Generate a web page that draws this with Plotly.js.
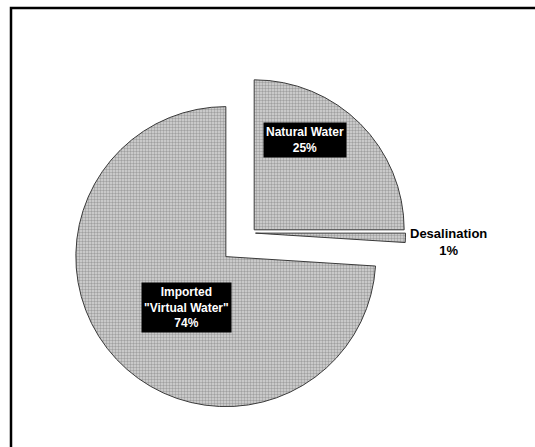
<!DOCTYPE html>
<html>
<head>
<meta charset="utf-8">
<script src="https://cdn.plot.ly/plotly-3.0.1.min.js"></script>
<style>
  html, body { margin: 0; padding: 0; background: #ffffff; }
  #chart { width: 535px; height: 447px; }
</style>
</head>
<body>
<div id="chart"></div>
<script>
// Water supply by source (percent of total)
const sources = ['Natural Water', 'Desalination', 'Imported "Virtual Water"'];
const sourceLines = ['Natural Water', 'Desalination', 'Imported<br>"Virtual Water"'];
const shares = [25, 1, 74];
const pulls = [0.03, 0.03, 0.23];

const trace = {
  type: 'pie',
  labels: sources,
  values: shares,
  pull: pulls,
  sort: false,
  direction: 'clockwise',
  rotation: 0,
  textinfo: 'none',
  hoverinfo: 'label+percent',
  showlegend: false,
  domain: { x: [0.1243, 0.8140], y: [0.062, 0.8955] },
  marker: {
    colors: ['#d6d6d6', '#d6d6d6', '#d6d6d6'],
    line: { color: '#3a3a3a', width: 1 },
    pattern: { shape: '.', size: 3, solidity: 0.5, fgcolor: '#6a6a6a', fillmode: 'overlay' }
  }
};

// label placement for each slice (paper coordinates), font size and whether it sits in a dark box
const labelPos = [
  { x: 0.570, y: 0.687, size: 12, boxed: true },
  { x: 0.838, y: 0.459, size: 13, boxed: false },
  { x: 0.348, y: 0.311, size: 12, boxed: true }
];

const annotations = shares.map((v, i) => ({
  xref: 'paper', yref: 'paper',
  x: labelPos[i].x, y: labelPos[i].y,
  xanchor: 'center', yanchor: 'middle',
  showarrow: false,
  align: 'center',
  text: '<b>' + sourceLines[i] + '<br>' + v + '%</b>',
  font: { family: 'Liberation Sans, Arial, sans-serif', size: labelPos[i].size, color: labelPos[i].boxed ? '#ffffff' : '#000000' },
  bgcolor: labelPos[i].boxed ? '#000000' : 'rgba(0,0,0,0)',
  borderpad: 2
}));

const layout = {
  width: 535,
  height: 447,
  margin: { l: 0, r: 0, t: 0, b: 0 },
  paper_bgcolor: '#ffffff',
  plot_bgcolor: '#ffffff',
  showlegend: false,
  annotations: annotations,
  shapes: [{
    type: 'rect', xref: 'paper', yref: 'paper',
    x0: 11 / 535, x1: 1.05, y0: -0.05, y1: 1 - 8 / 447,
    line: { color: '#000000', width: 2.5 },
    fillcolor: 'rgba(0,0,0,0)'
  }]
};

Plotly.newPlot('chart', [trace], layout, { staticPlot: true });
</script>
</body>
</html>
